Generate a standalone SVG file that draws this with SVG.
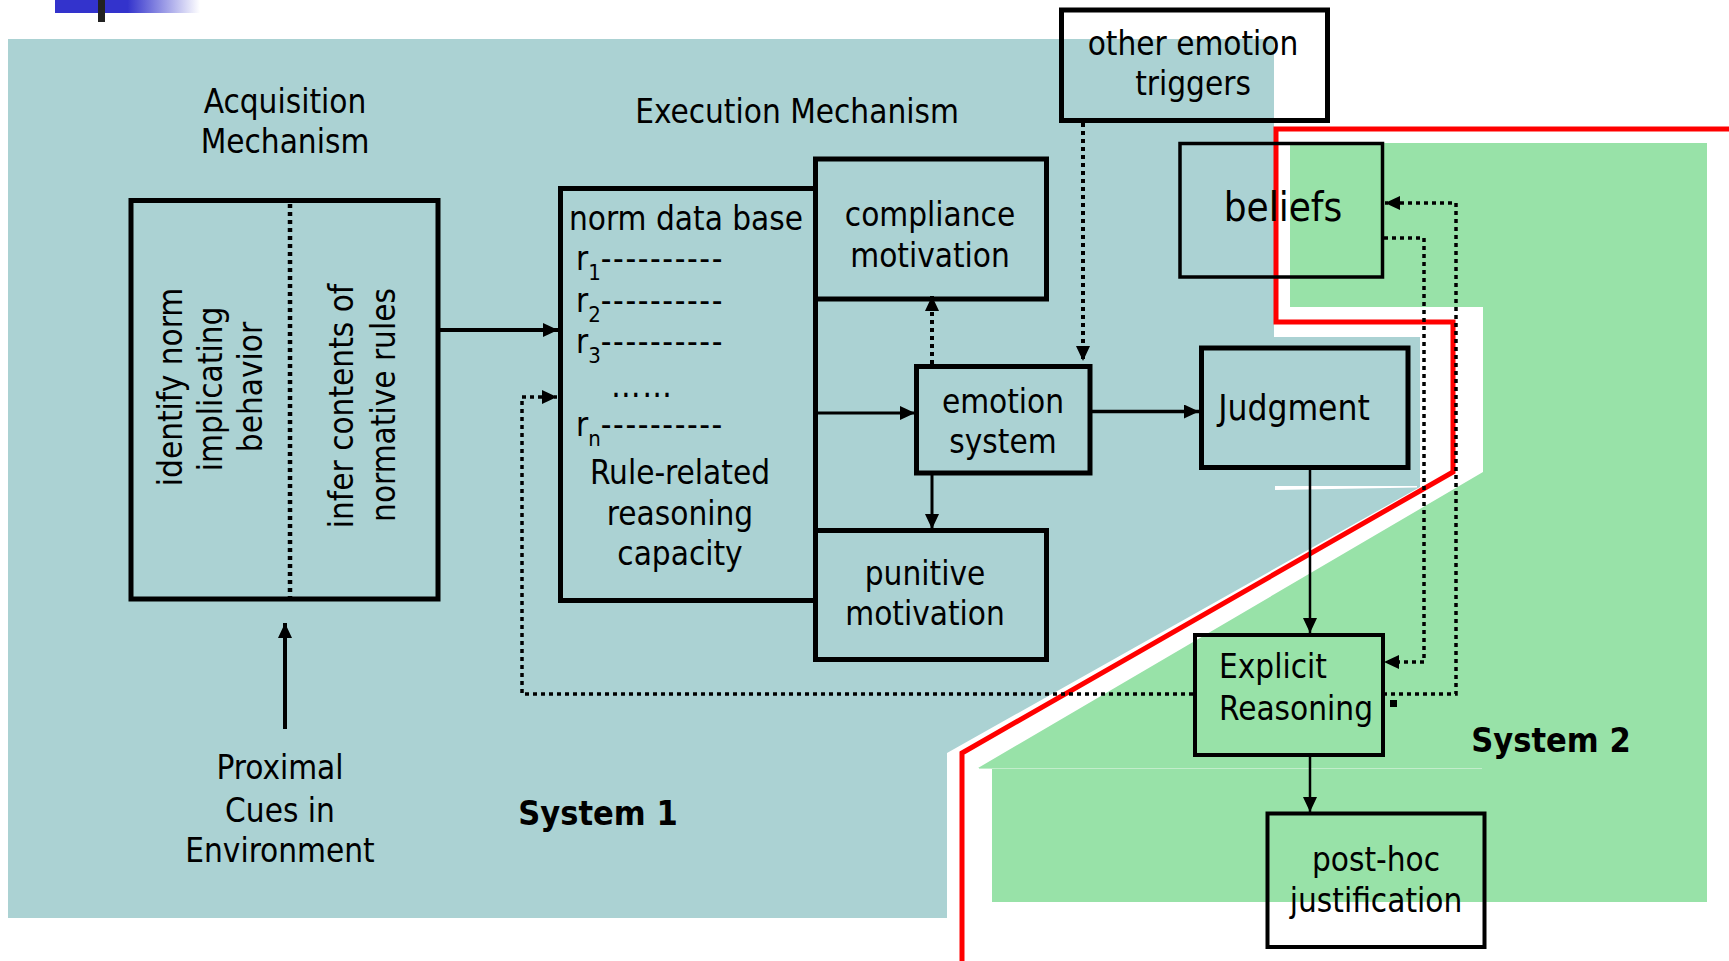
<svg xmlns="http://www.w3.org/2000/svg" width="1729" height="961" viewBox="0 0 1729 961">
  <style>
    text { font-family: "DejaVu Sans Condensed", "DejaVu Sans", sans-serif; font-stretch: condensed; font-size: 33px; fill: #000; }
    .c { text-anchor: middle; }
    .b { font-weight: bold; font-size: 34px; }
    .big { font-size: 40px; }
    .j { font-size: 35px; }
    .box { fill: none; stroke: #000; stroke-width: 5; }
    .thin { stroke-width: 3.5; }
    .mid { stroke-width: 4; }
    .ln { fill: none; stroke: #000; }
    .dot { fill: none; stroke: #000; stroke-dasharray: 4 4; }
  </style>
  <defs>
    <linearGradient id="bar" x1="0" y1="0" x2="1" y2="0">
      <stop offset="0" stop-color="#3333CC"/>
      <stop offset="0.5" stop-color="#3333CC"/>
      <stop offset="1" stop-color="#3333CC" stop-opacity="0"/>
    </linearGradient>
    <marker id="arr" markerUnits="userSpaceOnUse" viewBox="0 0 15 14" refX="15" refY="7" markerWidth="15" markerHeight="14" orient="auto">
      <path d="M0,0 L15,7 L0,14 Z" fill="#000"/>
    </marker>
  </defs>

  <rect x="0" y="0" width="1729" height="961" fill="#FFFFFF"/>

  <!-- regions -->
  <polygon points="8,39 1274,39 1274,337 1420,337 1420,487 947,753 947,918 8,918" fill="#ABD2D3"/>
  <polygon points="1275,486 1417,486 1417,487.5 1275,490" fill="#FFFFFF"/>
  <polygon points="1290,143 1707,143 1707,902 992,902 992,768 978,768 1483,472 1483,307 1290,307" fill="#98E2A8"/>
  <line x1="979" y1="768.5" x2="1482" y2="768.5" stroke="#C2EDCB" stroke-width="1"/>

  <!-- title bar -->
  <rect x="55" y="0" width="145" height="13" fill="url(#bar)"/>
  <rect x="98" y="0" width="7" height="22" fill="#222"/>

  <!-- red boundary -->
  <polyline points="1729,129 1276,129 1276,322 1453,322 1453,472 962,753 962,961" fill="none" stroke="#FF0000" stroke-width="5"/>

  <!-- section labels -->
  <text class="c" x="285" y="113">Acquisition</text>
  <text class="c" x="285" y="153">Mechanism</text>
  <text class="c" x="797" y="123">Execution Mechanism</text>
  <text class="c b" x="598" y="825">System 1</text>
  <text class="c b" x="1551" y="752">System 2</text>
  <text class="c" x="280" y="779">Proximal</text>
  <text class="c" x="280" y="822">Cues in</text>
  <text class="c" x="280" y="862">Environment</text>

  <!-- connectors -->
  <g id="connectors">
    <path class="ln" d="M440,330 H558" stroke-width="4" marker-end="url(#arr)"/>
    <path class="ln" d="M285,729 V623" stroke-width="4" marker-end="url(#arr)"/>
    <path class="dot" d="M1193,694 H522 V397 H557" stroke-width="3.5" marker-end="url(#arr)"/>
    <path class="dot" d="M1383,694 H1456 V203 H1385" stroke-width="3.5" marker-end="url(#arr)"/>
    <path class="dot" d="M1384,238 H1424 V662 H1384" stroke-width="3.5" marker-end="url(#arr)"/>
    <path class="dot" d="M1083,123 V361" stroke-width="4" marker-end="url(#arr)"/>
    <path class="dot" d="M932,364 V296" stroke-width="4" marker-end="url(#arr)"/>
    <path class="ln" d="M815,413 H915" stroke-width="3" marker-end="url(#arr)"/>
    <path class="ln" d="M932,475 V529" stroke-width="3" marker-end="url(#arr)"/>
    <path class="ln" d="M1091,411.5 H1199" stroke-width="3.5" marker-end="url(#arr)"/>
    <path class="ln" d="M1310,469 V633" stroke-width="2.5" marker-end="url(#arr)"/>
    <path class="ln" d="M1310,756 V812" stroke-width="2.5" marker-end="url(#arr)"/>
    <rect x="1390" y="700" width="7" height="7" fill="#000"/>
  </g>

  <!-- nodes -->
  <g id="acquisition">
    <rect class="box" x="131" y="200.5" width="307" height="398.5"/>
    <line class="dot" x1="290" y1="204" x2="290" y2="597" stroke-width="4.5"/>
    <text class="c" transform="translate(182,387) rotate(-90)">identify norm</text>
    <text class="c" transform="translate(222,389) rotate(-90)">implicating</text>
    <text class="c" transform="translate(262,387) rotate(-90)">behavior</text>
    <text class="c" transform="translate(353,406) rotate(-90)">infer contents of</text>
    <text class="c" transform="translate(395,405) rotate(-90)">normative rules</text>
  </g>

  <g id="norm-database">
    <rect class="box" x="560.5" y="188.5" width="255" height="412"/>
    <text x="569" y="230">norm data base</text>
    <text x="576" y="270">r<tspan font-size="22" dy="10">1</tspan><tspan dy="-10" letter-spacing="1.6">----------</tspan></text>
    <text x="576" y="312">r<tspan font-size="22" dy="10">2</tspan><tspan dy="-10" letter-spacing="1.6">----------</tspan></text>
    <text x="576" y="353">r<tspan font-size="22" dy="10">3</tspan><tspan dy="-10" letter-spacing="1.6">----------</tspan></text>
    <text x="611" y="397" letter-spacing="1.5">……</text>
    <text x="576" y="436">r<tspan font-size="22" dy="10">n</tspan><tspan dy="-10" letter-spacing="1.6">----------</tspan></text>
    <text class="c" x="680" y="484">Rule-related</text>
    <text class="c" x="680" y="525">reasoning</text>
    <text class="c" x="680" y="565">capacity</text>
  </g>

  <g id="compliance-motivation">
    <rect class="box" x="815.5" y="159" width="231" height="140"/>
    <text class="c" x="930" y="226">compliance</text>
    <text class="c" x="930" y="267">motivation</text>
  </g>

  <g id="punitive-motivation">
    <rect class="box" x="815.5" y="530.5" width="231" height="129"/>
    <text class="c" x="925" y="585">punitive</text>
    <text class="c" x="925" y="625">motivation</text>
  </g>

  <g id="emotion-system">
    <rect class="box" x="916.5" y="366.5" width="173.5" height="106.5"/>
    <text class="c" x="1003" y="413">emotion</text>
    <text class="c" x="1003" y="453">system</text>
  </g>

  <g id="other-emotion-triggers">
    <rect class="box" x="1061.5" y="10" width="266" height="110.5"/>
    <text class="c" x="1193" y="55">other emotion</text>
    <text class="c" x="1193" y="95">triggers</text>
  </g>

  <g id="judgment">
    <rect class="box" x="1201.5" y="348" width="206.5" height="119.5"/>
    <text class="c j" x="1294" y="420">Judgment</text>
  </g>

  <g id="beliefs">
    <rect class="box thin" x="1180" y="143.5" width="202.5" height="133.5"/>
    <text class="c big" x="1283" y="221">beliefs</text>
  </g>

  <g id="explicit-reasoning">
    <rect class="box mid" x="1195" y="635" width="188" height="120"/>
    <text x="1219" y="678">Explicit</text>
    <text x="1219" y="720">Reasoning</text>
  </g>

  <g id="post-hoc-justification">
    <rect class="box mid" x="1267.5" y="813.5" width="217" height="133.5"/>
    <text class="c" x="1376" y="871">post-hoc</text>
    <text class="c" x="1376" y="912">justification</text>
  </g>
</svg>
